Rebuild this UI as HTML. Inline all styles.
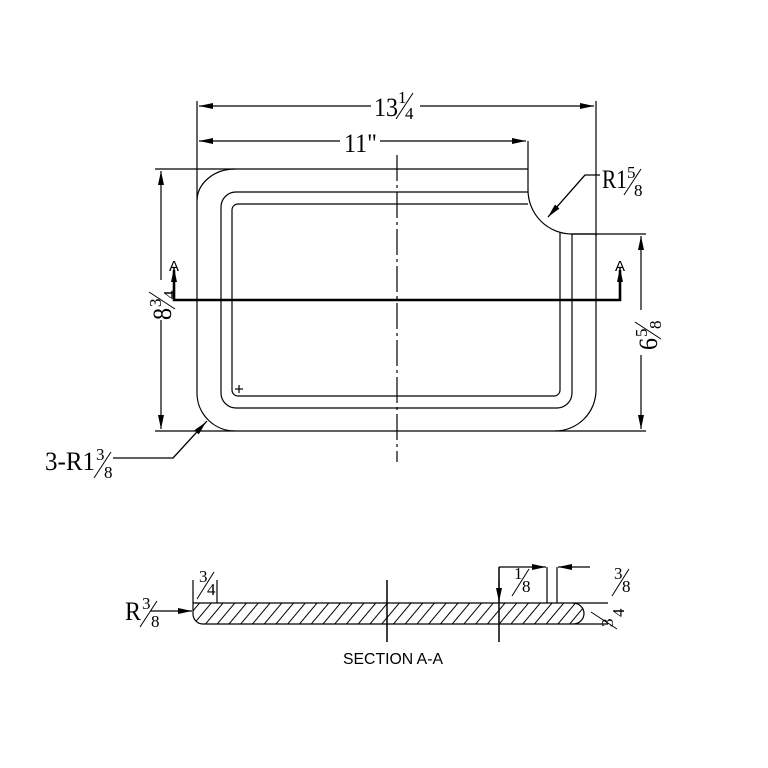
<!DOCTYPE html>
<html><head><meta charset="utf-8"><style>html,body{margin:0;padding:0;background:#fff}svg{display:block}</style></head>
<body>
<svg width="768" height="768" viewBox="0 0 768 768" xmlns="http://www.w3.org/2000/svg">
<defs>
<marker id="ar" markerWidth="14" markerHeight="6" refX="14" refY="3" orient="auto" markerUnits="userSpaceOnUse"><path d="M0,0 L14,3 L0,6 z" fill="#000"/></marker>
<pattern id="hatch" width="9" height="9" patternUnits="userSpaceOnUse" patternTransform="rotate(40)"><line x1="0" y1="0" x2="0" y2="9" stroke="#000" stroke-width="2"/></pattern>
</defs>
<g fill="none" stroke="#000" stroke-width="1.2">
<line x1="197" y1="101" x2="197" y2="200"/>
<line x1="596" y1="101" x2="596" y2="236"/>
<line x1="371" y1="106" x2="199" y2="106" marker-end="url(#ar)"/>
<line x1="420" y1="106" x2="594" y2="106" marker-end="url(#ar)"/>
<line x1="340" y1="141" x2="199" y2="141" marker-end="url(#ar)"/>
<line x1="380" y1="141" x2="526" y2="141" marker-end="url(#ar)"/>
<line x1="528" y1="141" x2="528" y2="169"/>
<path d="M528,169 L235,169 A38,32 0 0 0 197,201 L197,393 A38,38 0 0 0 235,431 L555,431 A41,41 0 0 0 596,390 L596,234 L572,234 A44,44 0 0 1 528,190 Z"/>
<path d="M528,192 L236,192 A15,15 0 0 0 221,207 L221,393 A15,15 0 0 0 236,408 L557,408 A15,15 0 0 0 572,393 L572,234"/>
<path d="M528,204 L238,204 A6,6 0 0 0 232,210 L232,390 A6,6 0 0 0 238,396 L554,396 A6,6 0 0 0 560,390 L560,233"/>
<line x1="397" y1="155" x2="397" y2="462" stroke-dasharray="26,4,3,4"/>
<line x1="155" y1="169" x2="235" y2="169"/>
<line x1="155" y1="431" x2="235" y2="431"/>
<line x1="161" y1="280" x2="161" y2="171" marker-end="url(#ar)"/>
<line x1="161" y1="320" x2="161" y2="429" marker-end="url(#ar)"/>
<line x1="572" y1="234" x2="646" y2="234"/>
<line x1="555" y1="431" x2="646" y2="431"/>
<line x1="641" y1="310" x2="641" y2="236" marker-end="url(#ar)"/>
<line x1="641" y1="355" x2="641" y2="429" marker-end="url(#ar)"/>
<polyline points="113,458 173,458 207,421" />
<line x1="173" y1="458" x2="206" y2="422" marker-end="url(#ar)"/>
<polyline points="600,175 585,175 548,217"/>
<line x1="585" y1="175" x2="548" y2="217" marker-end="url(#ar)"/>
<polyline points="174,270 174,300 620,300 620,270" stroke-width="2.6"/>
<line x1="174" y1="296" x2="174" y2="268" marker-end="url(#ar)" stroke-width="1.5"/>
<line x1="620" y1="296" x2="620" y2="268" marker-end="url(#ar)" stroke-width="1.5"/>
<line x1="235" y1="389" x2="243" y2="389"/><line x1="239" y1="385" x2="239" y2="393"/>
<path d="M193,603 L573,603 A11,10.5 0 0 1 573,624 L203,624 A10,10 0 0 1 193,614 Z" fill="url(#hatch)"/>
<line x1="573" y1="603" x2="608" y2="603"/>
<line x1="573" y1="624" x2="608" y2="624"/>
<line x1="387" y1="580" x2="387" y2="642" stroke-width="1.5"/>
<line x1="499" y1="567" x2="499" y2="642" stroke-width="1.5"/>
<line x1="499" y1="580" x2="499" y2="602" marker-end="url(#ar)"/>
<line x1="547" y1="567" x2="547" y2="603"/>
<line x1="557" y1="567" x2="557" y2="603"/>
<line x1="499" y1="567" x2="546" y2="567" marker-end="url(#ar)"/>
<line x1="590" y1="567" x2="558" y2="567" marker-end="url(#ar)"/>
<line x1="193" y1="580" x2="193" y2="603"/>
<line x1="217" y1="580" x2="217" y2="603"/>
<line x1="150" y1="611" x2="192" y2="611" marker-end="url(#ar)"/>
</g>
<g font-family="Liberation Serif, serif" fill="#000">
<text x="374" y="116" font-size="26" textLength="24" lengthAdjust="spacingAndGlyphs">13</text><text x="398" y="103" font-size="17">1</text><line x1="396" y1="119" x2="413" y2="93" stroke="#000"/><text x="405" y="119" font-size="17">4</text>
<text x="344" y="152" font-size="26" textLength="33" lengthAdjust="spacingAndGlyphs">11"</text>
<text x="602" y="188" font-size="26" textLength="25" lengthAdjust="spacingAndGlyphs">R1</text><text x="627" y="178" font-size="17">5</text><line x1="624" y1="195" x2="641" y2="169" stroke="#000"/><text x="634" y="196" font-size="17">8</text>
<text x="45" y="470" font-size="26" textLength="50" lengthAdjust="spacingAndGlyphs">3-R1</text><text x="96" y="460" font-size="17">3</text><line x1="94" y1="478" x2="111" y2="452" stroke="#000"/><text x="104" y="478" font-size="17">8</text>
<g transform="translate(171,320) rotate(-90)"><text x="0" y="0" font-size="26" textLength="12" lengthAdjust="spacingAndGlyphs">8</text><text x="13" y="-10" font-size="17">3</text><line x1="11" y1="4" x2="28" y2="-22" stroke="#000"/><text x="21" y="4" font-size="17">4</text></g>
<g transform="translate(657,350) rotate(-90)"><text x="0" y="0" font-size="26" textLength="12" lengthAdjust="spacingAndGlyphs">6</text><text x="13" y="-10" font-size="17">5</text><line x1="11" y1="4" x2="28" y2="-22" stroke="#000"/><text x="21" y="4" font-size="17">8</text></g>
<text x="125" y="620" font-size="26" textLength="16" lengthAdjust="spacingAndGlyphs">R</text><text x="142" y="609" font-size="17">3</text><line x1="140" y1="627" x2="157" y2="601" stroke="#000"/><text x="151" y="627" font-size="17">8</text>
<text x="199" y="582" font-size="17">3</text><line x1="197" y1="599" x2="214" y2="572" stroke="#000"/><text x="207" y="595" font-size="17">4</text>
<text x="514" y="579" font-size="17">1</text><line x1="512" y1="596" x2="529" y2="569" stroke="#000"/><text x="522" y="592" font-size="17">8</text>
<text x="614" y="579" font-size="17">3</text><line x1="612" y1="596" x2="629" y2="569" stroke="#000"/><text x="622" y="592" font-size="17">8</text>
<g transform="translate(613,627) rotate(-90)"><text x="0" y="0" font-size="17">3</text><line x1="-2" y1="4" x2="15" y2="-22" stroke="#000"/><text x="10" y="11" font-size="17">4</text></g>
</g>
<g font-family="Liberation Sans, sans-serif" fill="#000">
<text x="169" y="271" font-size="15" textLength="10" lengthAdjust="spacingAndGlyphs">A</text>
<text x="615" y="271" font-size="15" textLength="10" lengthAdjust="spacingAndGlyphs">A</text>
<text x="343" y="664" font-size="16" textLength="100" lengthAdjust="spacingAndGlyphs">SECTION A-A</text>
</g>
</svg>
</body></html>
